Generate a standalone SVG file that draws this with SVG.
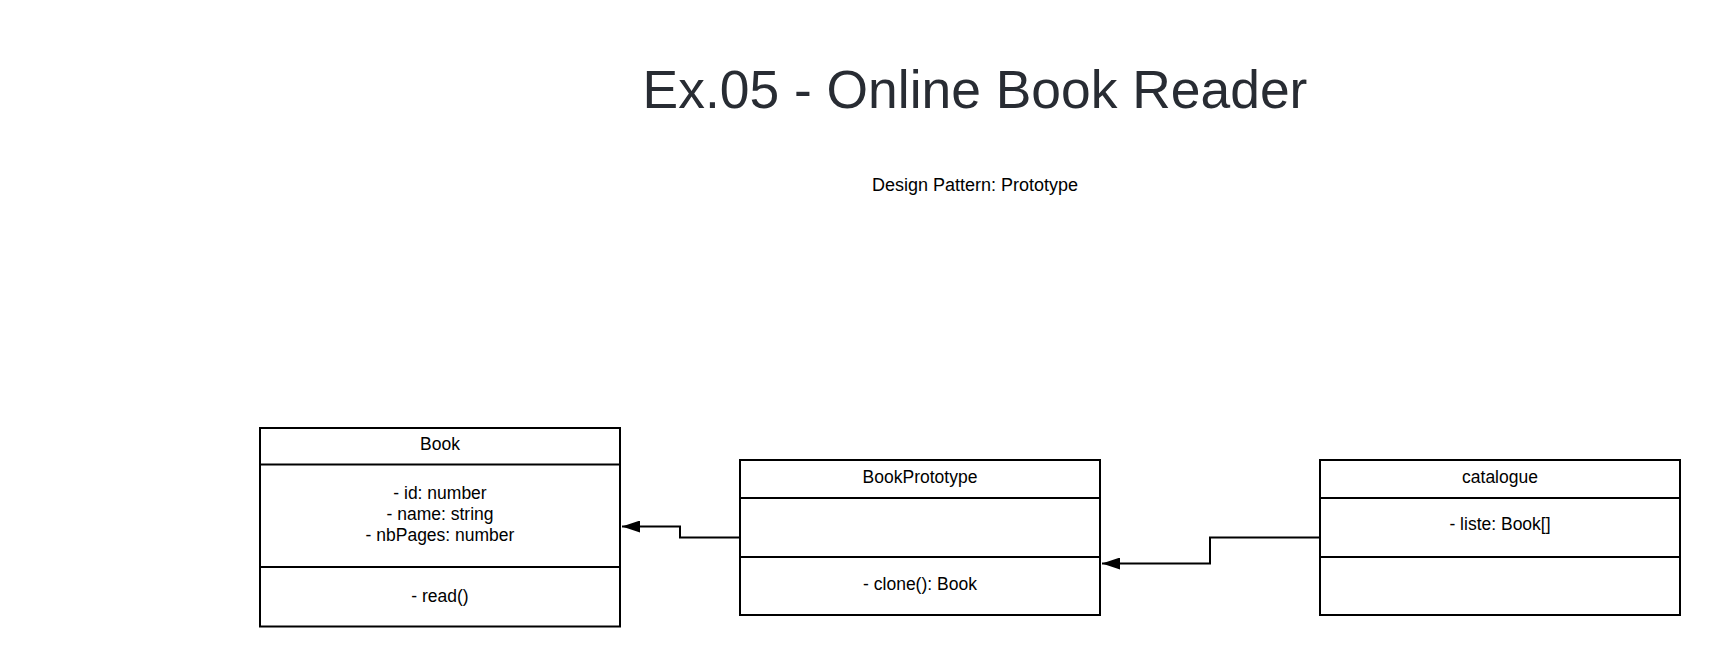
<svg xmlns="http://www.w3.org/2000/svg" width="1720" height="667" viewBox="0 0 1720 667">
<style>
.box{fill:#ffffff;stroke:#000000;stroke-width:2}
.div{stroke:#000000;stroke-width:2}
.t{font-family:"Liberation Sans",Arial,sans-serif;font-size:17.5px;fill:#000000;text-anchor:middle}
.conn{fill:none;stroke:#000000;stroke-width:2}
</style>
<defs>
<marker id="arr" markerWidth="20" markerHeight="12" refX="18" refY="6" orient="auto" markerUnits="userSpaceOnUse">
<path d="M0,0 L18,6 L0,12 Z" fill="#000000"/>
</marker>
</defs>
<rect width="1720" height="667" fill="#ffffff"/>
<text x="975" y="108" font-family="Liberation Sans, Arial, sans-serif" font-size="53.4" fill="#282c33" text-anchor="middle">Ex.05 - Online Book Reader</text>
<text x="975" y="191" class="t" style="font-size:18px">Design Pattern: Prototype</text>
<g id="book">
<rect class="box" x="260" y="428" width="360" height="198.5"/>
<line class="div" x1="260" y1="464.5" x2="620" y2="464.5"/>
<line class="div" x1="260" y1="567" x2="620" y2="567"/>
<text class="t" x="440" y="449.5">Book</text>
<text class="t" x="440" y="498.5">- id: number</text>
<text class="t" x="440" y="519.5">- name: string</text>
<text class="t" x="440" y="540.5">- nbPages: number</text>
<text class="t" x="440" y="601.5">- read()</text>
</g>
<g id="bookprototype">
<rect class="box" x="740" y="460" width="360" height="155"/>
<line class="div" x1="740" y1="498" x2="1100" y2="498"/>
<line class="div" x1="740" y1="557" x2="1100" y2="557"/>
<text class="t" x="920" y="482.5">BookPrototype</text>
<text class="t" x="920" y="589.5">- clone(): Book</text>
</g>
<g id="catalogue">
<rect class="box" x="1320" y="460" width="360" height="155"/>
<line class="div" x1="1320" y1="498" x2="1680" y2="498"/>
<line class="div" x1="1320" y1="557" x2="1680" y2="557"/>
<text class="t" x="1500" y="482.5">catalogue</text>
<text class="t" x="1500" y="530">- liste: Book[]</text>
</g>
<g id="connectors">
<polyline class="conn" points="740,537.5 680,537.5 680,526.5 622,526.5" marker-end="url(#arr)"/>
<polyline class="conn" points="1320,537.5 1210,537.5 1210,563.5 1102,563.5" marker-end="url(#arr)"/>
</g>
</svg>
